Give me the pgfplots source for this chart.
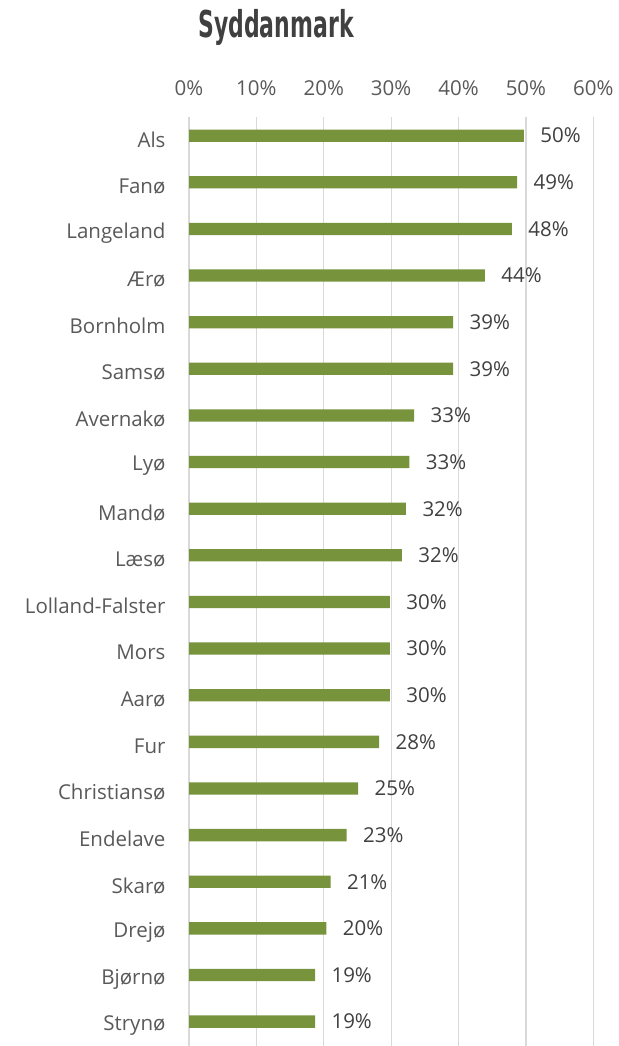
\documentclass[border=0pt]{standalone}
\usepackage{pgfplots}
\pgfplotsset{compat=1.18}
\usepackage{fontspec}
\setmainfont{Open Sans}
\newfontfamily\titlefont[FakeStretch=0.66]{DejaVu Sans Condensed Bold}
\definecolor{bargreen}{HTML}{77933C}
\definecolor{gridgrey}{HTML}{D9D9D9}
\definecolor{txtgrey}{HTML}{595959}
\definecolor{lblgrey}{HTML}{404040}
\begin{document}
\begin{tikzpicture}
\begin{axis}[
  at={(189pt,-117pt)}, anchor=north west,
  scale only axis,
  width=404.3pt, height=929.8pt,
  xbar, bar width=12.3pt,
  xmin=0, xmax=60,
  ymin=-0.4, ymax=19.54,
  y dir=reverse,
  axis line style={draw=none},
  xtick={0,10,...,60},
  xticklabel pos=top,
  xticklabel={\pgfmathprintnumber{\tick}\%},
  xticklabel style={font=\fontsize{20.5}{24}\selectfont, text=txtgrey, yshift=18pt},
  x tick label style={/pgf/number format/assume math mode=true},
  ytick={0,...,19},
  yticklabels={Als,Fanø,Langeland,Ærø,Bornholm,Samsø,Avernakø,Lyø,Mandø,Læsø,Lolland-Falster,Mors,Aarø,Fur,Christiansø,Endelave,Skarø,Drejø,Bjørnø,Strynø},
  yticklabel style={font=\fontsize{20.5}{24}\selectfont, text=txtgrey, xshift=-20pt, yshift=-4pt},
  major tick length=0pt,
  xmajorgrids, grid style={gridgrey, line width=1.3pt},
  nodes near coords={\pgfmathprintnumber[fixed,precision=0]{\pgfplotspointmeta}\%},
  nodes near coords style={font=\fontsize{20.5}{24}\selectfont, text=lblgrey, anchor=west, xshift=13pt, /pgf/number format/assume math mode=true},
  clip=false,
]
\addplot[fill=bargreen, draw=none] coordinates {
(49.7,0) (48.7,1) (47.9,2) (43.9,3) (39.2,4) (39.2,5) (33.4,6) (32.7,7) (32.2,8) (31.6,9)
(29.8,10) (29.8,11) (29.8,12) (28.2,13) (25.1,14) (23.4,15) (21.0,16) (20.4,17) (18.7,18) (18.7,19)
};
\end{axis}
\node[text=lblgrey, font=\titlefont\fontsize{37}{40}\selectfont, anchor=base] at (276pt,-38pt) {Syddanmark};
\pgfresetboundingbox
\useasboundingbox (0,0) rectangle (618pt,-1046pt);
\end{tikzpicture}
\end{document}
